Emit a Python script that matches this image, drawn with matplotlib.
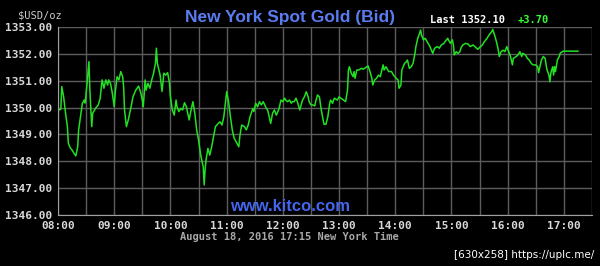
import matplotlib.pyplot as plt

# minutes after 08:00 and bid price
minutes = [1, 3, 4, 6, 8, 10, 11, 13, 15, 17, 19, 21, 22, 24, 26, 28, 29, 31, 33, 34,
           36, 37, 40, 43, 45, 47, 49, 51, 53, 54, 56, 58, 60, 61, 63, 65, 67, 69, 70, 71,
           73, 75, 78, 80, 83, 86, 88, 90, 91, 93, 94, 96, 98, 100, 102, 104, 105, 106, 109, 111,
           113, 115, 117, 119, 120, 122, 124, 126, 127, 129, 131, 133, 135, 137, 140, 142, 144, 146, 148, 150,
           152, 153, 155, 156, 157, 158, 160, 162, 164, 166, 168, 171, 173, 175, 177, 178, 180, 182, 184, 186,
           188, 191, 193, 194, 196, 199, 201, 203, 205, 208, 209, 211, 213, 215, 217, 219, 222, 224, 225, 227,
           229, 231, 233, 234, 236, 238, 240, 242, 243, 245, 247, 249, 250, 252, 254, 256, 258, 259, 261, 263,
           265, 267, 268, 270, 272, 274, 275, 277, 279, 281, 283, 284, 286, 288, 290, 291, 293, 295, 298, 300,
           302, 305, 307, 309, 310, 311, 313, 315, 316, 317, 319, 321, 324, 326, 329, 331, 333, 335, 336, 338,
           340, 342, 344, 347, 348, 350, 353, 356, 358, 361, 363, 364, 366, 367, 370, 372, 373, 375, 377, 379,
           381, 382, 384, 386, 387, 388, 390, 392, 394, 396, 397, 400, 402, 405, 407, 409, 412, 413, 416, 417,
           419, 421, 422, 423, 425, 427, 429, 430, 432, 435, 438, 440, 443, 445, 448, 451, 453, 455, 458, 460,
           463, 464, 466, 468, 470, 471, 473, 475, 477, 479, 481, 483, 485, 486, 489, 491, 493, 495, 496, 499,
           501, 503, 505, 507, 510, 512, 513, 514, 516, 518, 520, 521, 522, 524, 525, 526, 528, 529, 530, 531,
           533, 535, 536, 539, 555]
prices = [1349.91, 1349.94, 1350.78, 1350.40, 1349.80, 1349.29, 1348.68, 1348.50, 1348.42, 1348.30,
          1348.20, 1348.54, 1349.17, 1349.66, 1350.16, 1350.28, 1350.17, 1350.90, 1351.71, 1350.65,
          1349.29, 1349.79, 1349.97, 1350.10, 1350.35, 1351.03, 1350.72, 1351.03, 1350.84, 1351.03,
          1350.90, 1350.53, 1350.03, 1350.53, 1351.15, 1351.03, 1351.34, 1351.15, 1350.78, 1349.91,
          1349.29, 1349.54, 1350.03, 1350.40, 1350.65, 1350.80, 1350.59, 1350.28, 1350.03, 1351.03,
          1350.65, 1350.90, 1350.72, 1351.03, 1351.28, 1351.65, 1352.21, 1351.65, 1351.21, 1350.60,
          1351.28, 1351.21, 1351.30, 1350.90, 1350.40, 1349.91, 1349.72, 1350.28, 1350.03, 1349.85,
          1349.97, 1349.91, 1350.18, 1350.03, 1349.54, 1349.91, 1350.22, 1349.79, 1349.17, 1348.79,
          1348.30, 1348.11, 1347.80, 1347.12, 1347.68, 1348.05, 1348.48, 1348.23, 1348.54, 1348.92,
          1349.29, 1349.41, 1349.47, 1349.35, 1349.66, 1349.97, 1350.59, 1350.22, 1349.66, 1349.17,
          1348.86, 1348.67, 1348.54, 1348.92, 1349.35, 1349.29, 1349.17, 1349.35, 1349.66, 1349.97,
          1349.85, 1350.16, 1350.03, 1350.22, 1350.10, 1350.22, 1350.00, 1349.88, 1349.72, 1349.41,
          1349.79, 1349.91, 1349.72, 1349.79, 1349.97, 1350.28, 1350.22, 1350.35, 1350.28, 1350.22,
          1350.28, 1350.16, 1350.22, 1350.22, 1350.35, 1350.16, 1349.91, 1350.03, 1350.28, 1350.40,
          1350.59, 1350.40, 1350.22, 1350.10, 1350.10, 1350.06, 1350.22, 1350.47, 1350.40, 1349.91,
          1349.54, 1349.38, 1349.38, 1349.66, 1350.16, 1350.28, 1350.16, 1350.35, 1350.28, 1350.40,
          1350.35, 1350.28, 1350.22, 1350.65, 1351.40, 1351.52, 1351.28, 1351.15, 1351.34, 1351.09,
          1351.40, 1351.40, 1351.46, 1351.43, 1351.50, 1351.55, 1351.34, 1351.09, 1350.84, 1351.03,
          1351.09, 1351.21, 1351.15, 1351.59, 1351.40, 1351.52, 1351.34, 1351.34, 1351.21, 1351.09,
          1351.03, 1350.72, 1350.84, 1351.40, 1351.65, 1351.71, 1351.77, 1351.46, 1351.52, 1351.65,
          1352.02, 1352.27, 1352.58, 1352.77, 1352.89, 1352.70, 1352.52, 1352.58, 1352.45, 1352.33,
          1352.27, 1352.02, 1352.21, 1352.27, 1352.21, 1352.33, 1352.39, 1352.45, 1352.58, 1352.50,
          1352.39, 1352.52, 1352.33, 1351.96, 1352.08, 1352.02, 1352.08, 1352.21, 1352.33, 1352.39,
          1352.36, 1352.27, 1352.33, 1352.27, 1352.17, 1352.27, 1352.33, 1352.45, 1352.58, 1352.70,
          1352.83, 1352.91, 1352.70, 1352.45, 1352.14, 1351.90, 1352.08, 1352.14, 1352.08, 1352.27,
          1352.08, 1351.90, 1351.59, 1351.83, 1351.90, 1351.96, 1352.08, 1351.90, 1352.02, 1351.96,
          1351.83, 1351.77, 1351.65, 1351.59, 1351.59, 1351.52, 1351.30, 1351.46, 1351.77, 1351.90,
          1351.83, 1351.59, 1351.40, 1351.21, 1350.96, 1351.28, 1351.52, 1351.21, 1351.52, 1351.34,
          1351.77, 1351.90, 1352.02, 1352.10, 1352.10]

hour_labels = ['08:00', '09:00', '10:00', '11:00', '12:00', '13:00',
               '14:00', '15:00', '16:00', '17:00']
price_ticks = [1346, 1347, 1348, 1349, 1350, 1351, 1352, 1353]
last_price = '1352.10'
change = '+3.70'

mono = 'DejaVu Sans Mono'
fig = plt.figure(figsize=(6, 2.66), dpi=100, facecolor='black')
ax = fig.add_axes([0.0967, 0.1917, 0.89, 0.7068], facecolor='black')

ax.plot(minutes, prices, color='#22e022', lw=1.1)

ax.set_xlim(0, 570)
ax.set_ylim(1346, 1353)
ax.set_xticks([i * 60 for i in range(len(hour_labels))])
ax.set_xticklabels(hour_labels)
ax.set_xticks([30 + i * 60 for i in range(len(hour_labels))], minor=True)
ax.set_yticks(price_ticks)
ax.set_yticklabels([f'{p:.2f}' for p in price_ticks])
ax.grid(True, which='both', color='#5c5c5c', lw=1)
ax.tick_params(which='both', length=0, colors='#d8d8d8', labelsize=8, pad=4)
for lab in ax.get_xticklabels() + ax.get_yticklabels():
    lab.set_fontfamily(mono)
    lab.set_fontweight('bold')
for side in ['top', 'right']:
    ax.spines[side].set_visible(False)
for side in ['left', 'bottom']:
    ax.spines[side].set_color('#a0a0a0')

fig.text(0.483, 0.935, 'New York Spot Gold (Bid)', color='#5b7cf0', fontsize=12.5,
         fontweight='bold', family='Liberation Sans', ha='center', va='center')
fig.text(0.03, 0.94, '$USD/oz', color='#c8c8c8', fontsize=7.5, family=mono,
         ha='left', va='center')
fig.text(0.717, 0.925, 'Last ' + last_price, color='white', fontsize=7.5, family=mono,
         fontweight='bold', ha='left', va='center')
fig.text(0.862, 0.925, change, color='#33ff33', fontsize=7.5, family=mono,
         fontweight='bold', ha='left', va='center')
fig.text(0.483, 0.222, 'www.kitco.com', color='#4466ee', fontsize=12,
         fontweight='bold', family='Liberation Sans', ha='center', va='center')
fig.text(0.483, 0.108, 'August 18, 2016 17:15 New York Time', color='#a8a8a8',
         fontsize=7.5, family=mono, fontweight='bold', ha='center', va='center')
fig.text(0.99, 0.04, '[630x258] https://uplc.me/', color='white', fontsize=7.5,
         family='DejaVu Sans', ha='right', va='center')

fig.savefig('out.png', dpi=100, facecolor='black')
